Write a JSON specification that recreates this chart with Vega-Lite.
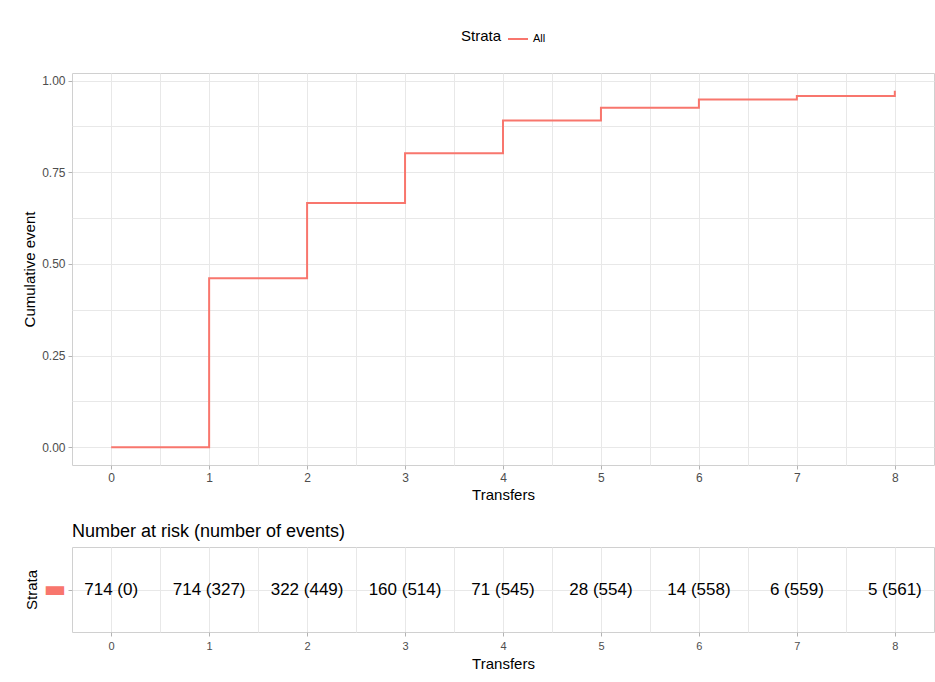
{
  "$schema": "https://vega.github.io/schema/vega-lite/v6.json",
  "background": "white",
  "padding": {"left": 22, "top": 28, "right": 0, "bottom": 0},
  "spacing": 19,
  "datasets": {
    "cif": [
      {"transfers": 0, "cum": 0.0, "strata": "All"},
      {"transfers": 1, "cum": 0.461, "strata": "All"},
      {"transfers": 2, "cum": 0.666, "strata": "All"},
      {"transfers": 3, "cum": 0.802, "strata": "All"},
      {"transfers": 4, "cum": 0.891, "strata": "All"},
      {"transfers": 5, "cum": 0.926, "strata": "All"},
      {"transfers": 6, "cum": 0.948, "strata": "All"},
      {"transfers": 7, "cum": 0.958, "strata": "All"},
      {"transfers": 8, "cum": 0.972, "strata": "All"}
    ],
    "risk": [
      {"transfers": 0, "label": "714 (0)", "strata": "All"},
      {"transfers": 1, "label": "714 (327)", "strata": "All"},
      {"transfers": 2, "label": "322 (449)", "strata": "All"},
      {"transfers": 3, "label": "160 (514)", "strata": "All"},
      {"transfers": 4, "label": "71 (545)", "strata": "All"},
      {"transfers": 5, "label": "28 (554)", "strata": "All"},
      {"transfers": 6, "label": "14 (558)", "strata": "All"},
      {"transfers": 7, "label": "6 (559)", "strata": "All"},
      {"transfers": 8, "label": "5 (561)", "strata": "All"}
    ]
  },
  "config": {
    "font": "Liberation Sans",
    "view": {"stroke": "#d0d0d0", "strokeWidth": 1},
    "axis": {
      "domain": false,
      "labelColor": "#4d4d4d",
      "labelFontSize": 12,
      "titleColor": "#000000",
      "titleFontSize": 15,
      "titleFontWeight": "normal",
      "tickColor": "#b3b3b3",
      "tickSize": 4,
      "labelPadding": 3,
      "gridColor": "#e8e8e8",
      "gridWidth": 1
    },
    "legend": {"layout": {"top": {"anchor": "middle"}}}
  },
  "vconcat": [
    {
      "width": 862,
      "height": 392,
      "data": {"name": "cif"},
      "mark": {"type": "line", "interpolate": "step-after", "strokeWidth": 2},
      "encoding": {
        "x": {
          "field": "transfers",
          "type": "quantitative",
          "scale": {"domain": [-0.4, 8.4], "nice": false, "zero": false},
          "axis": {
            "title": "Transfers",
            "values": [0, 0.5, 1, 1.5, 2, 2.5, 3, 3.5, 4, 4.5, 5, 5.5, 6, 6.5, 7, 7.5, 8],
            "labelExpr": "datum.value % 1 === 0 ? format(datum.value, 'd') : ''",
            "tickOpacity": {"condition": {"test": "datum.value % 1 === 0", "value": 1}, "value": 0},
            "titlePadding": 4
          }
        },
        "y": {
          "field": "cum",
          "type": "quantitative",
          "scale": {"domain": [-0.0486, 1.0206], "nice": false, "zero": false},
          "axis": {
            "title": "Cumulative event",
            "values": [0, 0.125, 0.25, 0.375, 0.5, 0.625, 0.75, 0.875, 1],
            "labelExpr": "datum.value % 0.25 === 0 ? format(datum.value, '.2f') : ''",
            "tickOpacity": {"condition": {"test": "datum.value % 0.25 === 0", "value": 1}, "value": 0},
            "titlePadding": 4
          }
        },
        "color": {
          "field": "strata",
          "type": "nominal",
          "scale": {"range": ["#F8766D"]},
          "legend": {
            "title": "Strata",
            "orient": "top",
            "direction": "horizontal",
            "titleOrient": "left",
            "titleFontSize": 15,
            "titleFontWeight": "normal",
            "titleColor": "#000000",
            "labelFontSize": 11,
            "labelColor": "#000000",
            "symbolType": "stroke",
            "symbolSize": 400,
            "symbolStrokeWidth": 2,
            "offset": 28
          }
        }
      }
    },
    {
      "width": 862,
      "height": 85,
      "title": {
        "text": "Number at risk (number of events)",
        "anchor": "start",
        "frame": "group",
        "fontSize": 18,
        "fontWeight": "normal",
        "color": "#000000",
        "offset": 6
      },
      "data": {"name": "risk"},
      "mark": {"type": "text", "fontSize": 17, "color": "#000000"},
      "encoding": {
        "x": {
          "field": "transfers",
          "type": "quantitative",
          "scale": {"domain": [-0.4, 8.4], "nice": false, "zero": false},
          "axis": {
            "title": "Transfers",
            "values": [0, 0.5, 1, 1.5, 2, 2.5, 3, 3.5, 4, 4.5, 5, 5.5, 6, 6.5, 7, 7.5, 8],
            "labelExpr": "datum.value % 1 === 0 ? format(datum.value, 'd') : ''",
            "tickOpacity": {"condition": {"test": "datum.value % 1 === 0", "value": 1}, "value": 0},
            "labelFontSize": 11,
            "labelPadding": 4,
            "titlePadding": 5
          }
        },
        "y": {
          "field": "strata",
          "type": "nominal",
          "axis": {
            "title": "Strata",
            "labelExpr": "'▬'",
            "labelColor": "#F8766D",
            "labelFont": "DejaVu Sans",
            "labelFontSize": 24,
            "labelPadding": 2,
            "grid": true,
            "titlePadding": 4
          }
        },
        "text": {"field": "label", "type": "nominal"}
      }
    }
  ]
}
